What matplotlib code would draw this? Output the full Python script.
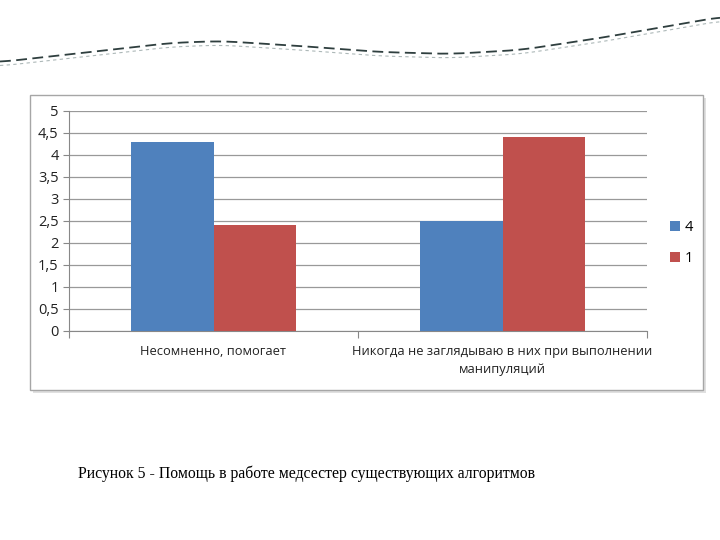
import numpy as np
import matplotlib.pyplot as plt
from matplotlib.patches import Rectangle

categories = ["Несомненно, помогает",
              "Никогда не заглядываю в них при выполнении\nманипуляций"]
series_names = ["4", "1"]
values_4 = [4.3, 2.5]
values_1 = [2.4, 4.4]
y_ticks = [0, 0.5, 1, 1.5, 2, 2.5, 3, 3.5, 4, 4.5, 5]
y_tick_labels = ["0", "0,5", "1", "1,5", "2", "2,5", "3", "3,5", "4", "4,5", "5"]
caption = "Рисунок 5 - Помощь в работе медсестер существующих алгоритмов"

# decorative wave at the top of the slide (pixel coords)
wave_x = [0, 100, 170, 220, 300, 380, 450, 520, 600, 720]
wave_y = [62, 51, 43, 41, 46, 52, 54, 50, 38, 17]

W, H = 720, 540
fig = plt.figure(figsize=(7.2, 5.4), dpi=100)
fig.patch.set_facecolor("white")

# background overlay for decoration
deco = fig.add_axes([0, 0, 1, 1])
deco.set_xlim(0, W)
deco.set_ylim(H, 0)
deco.axis("off")
xs = np.linspace(0, W, 400)
ys = np.interp(xs, wave_x, wave_y)
ys = np.convolve(np.pad(ys, 10, mode="edge"), np.ones(21) / 21, mode="valid")
deco.plot(xs, ys, color="#2f3f3f", lw=1.3, ls=(0, (6, 3)))
deco.plot(xs, ys + 4, color="#8a9a9a", lw=0.8, ls=(0, (3, 3)), alpha=0.7)

# chart frame
deco.add_patch(Rectangle((33, 98), 673, 295, facecolor="#e0e0e0", edgecolor="none"))
deco.add_patch(Rectangle((30, 95), 673, 295, facecolor="white", edgecolor="#a6a6a6", lw=1))

deco.text(78, 474, caption, fontsize=11.3, family="Liberation Serif",
          ha="left", va="center", color="black")

ax = fig.add_axes([69 / W, 1 - 331 / H, 578 / W, 220 / H])
x = np.arange(len(categories))
width = 0.287
ax.bar(x - width / 2, values_4, width, color="#4f81bd", label=series_names[0], zorder=3)
ax.bar(x + width / 2, values_1, width, color="#c0504d", label=series_names[1], zorder=3)

ax.set_xlim(-0.5, 1.5)
ax.set_ylim(0, 5)
ax.set_yticks(y_ticks)
ax.set_yticklabels(y_tick_labels)
ax.set_xticks([-0.5, 0.5, 1.5])
ax.set_xticklabels([])
ax.set_xticks(x, minor=True)
ax.set_xticklabels(categories, minor=True, fontsize=9.3, family="Open Sans", color="#222222",
                   linespacing=1.5)
ax.tick_params(axis="x", which="minor", length=0, pad=10)
ax.tick_params(axis="x", which="major", length=5, color="#888888")
ax.tick_params(axis="y", length=4, color="#888888", labelsize=10.5, labelcolor="#222222")
for lab in ax.get_yticklabels():
    lab.set_family("Open Sans")

ax.grid(axis="y", color="#999999", lw=0.9, zorder=0)
for side in ["top", "right"]:
    ax.spines[side].set_visible(False)
ax.spines["left"].set_color("#888888")
ax.spines["bottom"].set_color("#888888")

leg = ax.legend(loc="center left", bbox_to_anchor=(1.017, 0.4), frameon=False,
                handlelength=0.7, handleheight=0.7, handletextpad=0.3,
                labelspacing=1.1, prop={"family": "Open Sans", "size": 10.5})

fig.savefig("out.png", dpi=100)
